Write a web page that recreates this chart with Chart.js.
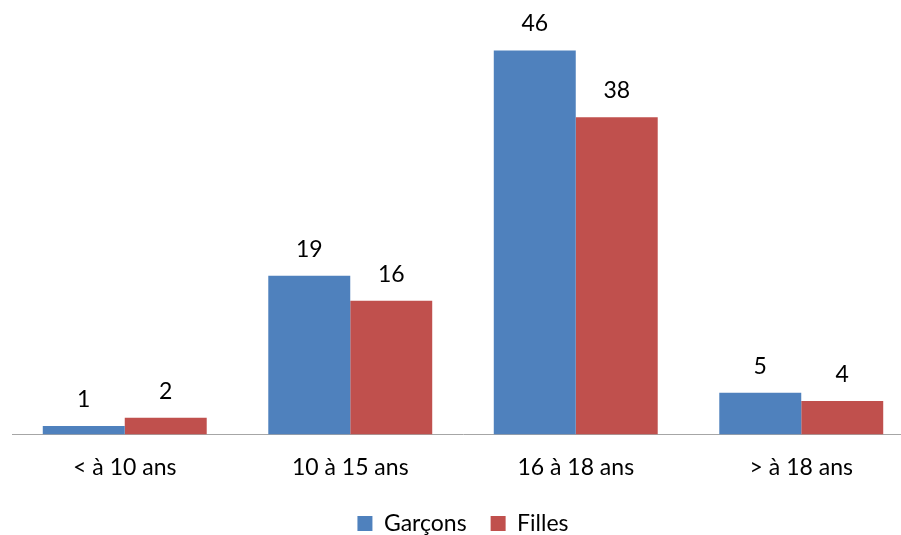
<!DOCTYPE html>
<html><head><meta charset="utf-8">
<script src="https://cdn.jsdelivr.net/npm/chart.js@4"></script>
<style>html,body{margin:0;padding:0;background:#fff;overflow:hidden}#wrap{width:901px;height:535px;overflow:hidden}canvas{display:block}</style>
</head><body><div id="wrap"><canvas id="c" width="914" height="545"></canvas></div>
<script>
const categories = ['< à 10 ans', '10 à 15 ans', '16 à 18 ans', '> à 18 ans'];
const seriesNames = ['Garçons', 'Filles'];
const garcons = [1, 19, 46, 5];
const filles = [2, 16, 38, 4];
const yMax = 50;

const FONT = 'Lato';
const FS = 23;
const valueLabels = {
  id: 'valueLabels',
  afterDatasetsDraw(chart) {
    const ctx = chart.ctx;
    ctx.save();
    ctx.font = FS + 'px ' + FONT;
    ctx.fillStyle = '#000';
    ctx.textAlign = 'center';
    ctx.textBaseline = 'alphabetic';
    chart.data.datasets.forEach((ds, i) => {
      chart.getDatasetMeta(i).data.forEach((el, j) => {
        ctx.fillText(String(ds.data[j]), el.x, el.y - 19);
      });
    });
    ctx.restore();
  }
};

new Chart(document.getElementById('c'), {
  type: 'bar',
  data: {
    labels: categories,
    datasets: [
      { label: seriesNames[0], data: garcons, backgroundColor: '#4F81BD' },
      { label: seriesNames[1], data: filles, backgroundColor: '#C0504D' }
    ]
  },
  options: {
    responsive: false,
    animation: false,
    devicePixelRatio: 1,
    categoryPercentage: 0.727,
    barPercentage: 1.0,
    layout: { padding: { left: 12, right: 0, top: 17, bottom: 0 } },
    plugins: {
      tooltip: { enabled: false },
      legend: {
        position: 'bottom',
        labels: {
          font: { family: FONT, size: FS },
          color: '#000',
          boxWidth: 15,
          boxHeight: 15,
          padding: 24
        }
      }
    },
    scales: {
      x: {
        grid: { display: false, drawTicks: false },
        border: { display: true, color: '#A6A6A6', width: 1 },
        ticks: { font: { family: FONT, size: FS }, color: '#000', padding: 19 },
        afterFit(scale) { scale.height -= 12; }
      },
      y: {
        display: false,
        min: 0,
        max: yMax
      }
    }
  },
  plugins: [valueLabels]
});
</script>
</body></html>
